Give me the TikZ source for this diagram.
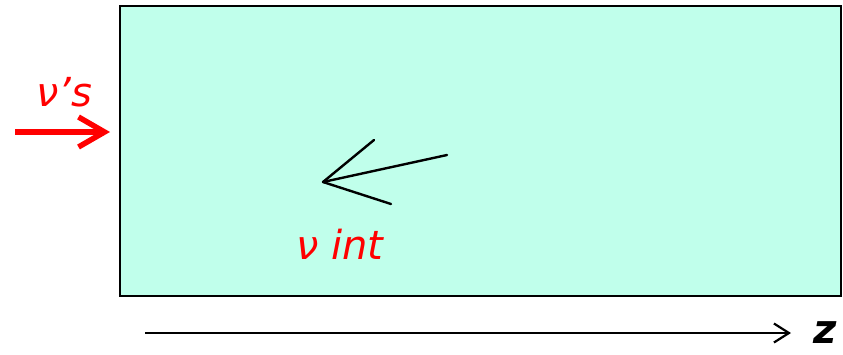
\documentclass[tikz,border=0pt]{standalone}
\usepackage{fontspec}
\setmainfont{DejaVu Sans}
\usetikzlibrary{arrows.meta}
\definecolor{boxfill}{RGB}{192,255,235}
\tikzset{
  redlabel/.style={text=red, font=\fontsize{40}{42}\selectfont\itshape, inner sep=0pt},
  track/.style={black, line width=2.4pt, line cap=round},
}
\begin{document}
\begin{tikzpicture}[x=1pt,y=-1pt]
\useasboundingbox (0,0) rectangle (843,354);
\node[draw=black, line width=2pt, fill=boxfill, minimum width=721pt, minimum height=290pt, anchor=north west, inner sep=0pt] (box) at (119,5) {};
\node[redlabel] (nus) at (64,92) {ν's};
\coordinate (rs) at (15,132);
\coordinate (re) at (110,132);
\draw[red, line width=5.5pt, -{Straight Barb[length=26pt,width=30pt,line width=5.5pt]}] (rs) -- (re);
\coordinate (v) at (323,182);
\coordinate (t1) at (447,155);
\coordinate (t2) at (374,140);
\coordinate (t3) at (391,204);
\draw[track] (v) -- (t1);
\draw[track] (v) -- (t2);
\draw[track] (v) -- (t3);
\node[redlabel] (nuint) at (340,244) {ν int};
\coordinate (zs) at (145,333);
\coordinate (ze) at (791,333);
\draw[line width=2.2pt, -{Straight Barb[length=15pt,width=19pt,line width=2.2pt]}] (zs) -- (ze);
\node[font=\fontsize{40}{42}\selectfont\bfseries\itshape, inner sep=0pt] (z) at (825,333) {z};
\end{tikzpicture}
\end{document}
